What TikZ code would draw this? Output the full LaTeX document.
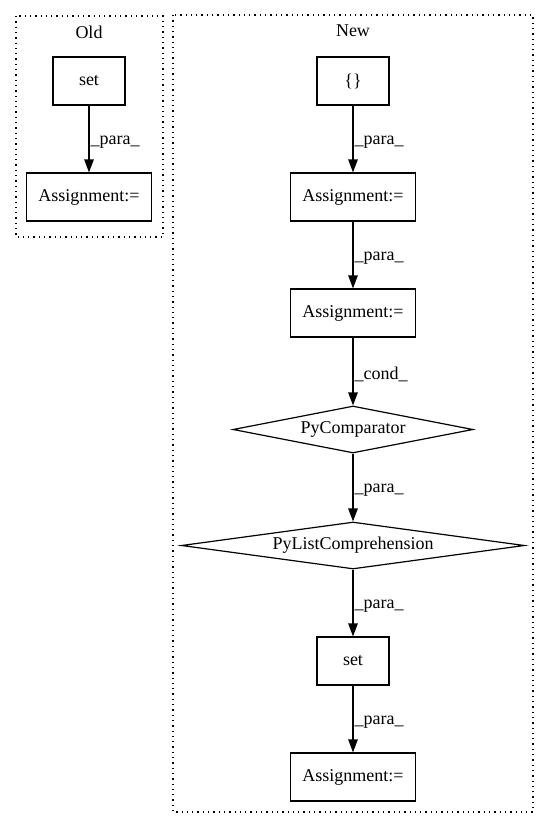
\documentclass[tikz,border=0pt]{standalone}
\usepackage{fontspec}
\setmainfont{Liberation Serif}
\usetikzlibrary{shapes.geometric,arrows.meta}
\begin{document}
\begin{tikzpicture}[x=1pt,y=1pt,
  every node/.style={font=\fontsize{18}{20}\selectfont},
  box/.style={draw,line width=1.2pt,rectangle,inner sep=0pt,minimum height=48pt},
  dia/.style={draw,line width=1.2pt,diamond,inner sep=0pt,minimum height=47pt,shape aspect=6},
  cluster/.style={draw,line width=1.2pt,dash pattern=on 1.3pt off 4pt},
  edge/.style={line width=1.2pt,-{Triangle[length=13pt,width=9.5pt]}},
  elab/.style={anchor=west,inner sep=1pt,yshift=-3pt}]
\useasboundingbox (0,0) rectangle (549,-828);
\draw[cluster] (16,-16) rectangle (163,-237);
\draw[cluster] (173,-15) rectangle (533,-812);
\node (oldlab) at (89,-32) {Old};
\node (newlab) at (353,-31) {New};
\node[box,minimum width=72pt] (oset) at (89,-81) {set};
\node[box,minimum width=125pt] (oass) at (89,-197) {Assignment:=};
\node[box,minimum width=72pt] (br) at (353,-81) {\{\}};
\node[box,minimum width=125pt] (a1) at (353,-197) {Assignment:=};
\node[box,minimum width=125pt] (a2) at (353,-313) {Assignment:=};
\node[dia,minimum width=240pt] (pc) at (353,-429.5) {PyComparator};
\node[dia,minimum width=343pt] (pl) at (353,-545.5) {PyListComprehension};
\node[box,minimum width=72pt] (nset) at (353,-661) {set};
\node[box,minimum width=125pt] (a3) at (353,-777) {Assignment:=};
\draw[edge] (oset.south) -- node[elab]{\_para\_} (oset.south |- oass.north);
\draw[edge] (br.south) -- node[elab]{\_para\_} (br.south |- a1.north);
\draw[edge] (a1.south) -- node[elab]{\_para\_} (a1.south |- a2.north);
\draw[edge] (a2.south) -- node[elab]{\_cond\_} (a2.south |- pc.north);
\draw[edge] (pc.south) -- node[elab]{\_para\_} (pc.south |- pl.north);
\draw[edge] (pl.south) -- node[elab]{\_para\_} (pl.south |- nset.north);
\draw[edge] (nset.south) -- node[elab]{\_para\_} (nset.south |- a3.north);
\end{tikzpicture}
\end{document}
